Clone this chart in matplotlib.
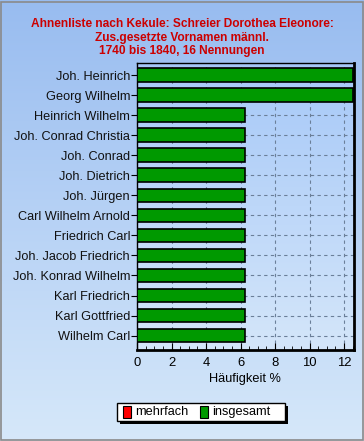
import matplotlib
matplotlib.use("Agg")
import matplotlib.pyplot as plt
import numpy as np
from matplotlib.patches import Rectangle
from matplotlib.colors import LinearSegmentedColormap

names = ["Joh. Heinrich", "Georg Wilhelm", "Heinrich Wilhelm", "Joh. Conrad Christia",
         "Joh. Conrad", "Joh. Dietrich", "Joh. Jürgen", "Carl Wilhelm Arnold",
         "Friedrich Carl", "Joh. Jacob Friedrich", "Joh. Konrad Wilhelm",
         "Karl Friedrich", "Karl Gottfried", "Wilhelm Carl"]
insgesamt = [12.5, 12.5, 6.25, 6.25, 6.25, 6.25, 6.25, 6.25, 6.25, 6.25, 6.25, 6.25, 6.25, 6.25]
xticks = [0, 2, 4, 6, 8, 10, 12]
title = "Ahnenliste nach Kekule: Schreier Dorothea Eleonore:\nZus.gesetzte Vornamen männl.\n1740 bis 1840, 16 Nennungen"

plt.rcParams['font.family'] = ['Liberation Sans', 'DejaVu Sans']

W, H = 364, 441
fig = plt.figure(figsize=(W/100, H/100), dpi=100)

# figure background gradient
bg = fig.add_axes([0, 0, 1, 1], zorder=-10)
cmap = LinearSegmentedColormap.from_list("bg", ["#98bcf0", "#d6e8fa"])
grad = np.linspace(0, 1, 256).reshape(-1, 1)
bg.imshow(grad, aspect='auto', cmap=cmap, extent=[0, 1, 0, 1], origin='upper')
bg.add_patch(Rectangle((0.002, 0.002), 0.994, 0.994, fill=False, edgecolor='#8a8a8a', lw=1.2, transform=bg.transAxes))
bg.set_axis_off()

ax = fig.add_axes([137/W, (H-350)/H, (353.5-137)/W, (350-62.7)/H])
ax.set_facecolor('none')
# plot area gradient
ax.imshow(grad, aspect='auto', cmap=LinearSegmentedColormap.from_list("pa", ["#a6c8f8", "#d4e6fa"]),
          extent=[0, 1, 0, 1], origin='upper', transform=ax.transAxes, zorder=0)

y = np.arange(len(names))
ax.barh(y, insgesamt, height=0.68, color='#009900', edgecolor='black', lw=1.2, zorder=3)

ax.set_xlim(0, 12.55)
ax.set_ylim(13.72, -0.62)
ax.set_yticks(y)
ax.set_yticklabels(names, fontsize=9.2, color='#111111')
ax.set_xticks(xticks)
ax.set_xticklabels([str(t) for t in xticks], fontsize=9.4)
ax.set_xticks(np.arange(0, 12.6, 0.5), minor=True)
ax.tick_params(axis='y', length=4, width=0.8, pad=1)
ax.tick_params(axis='x', which='major', direction='in', length=5, width=0.8, pad=5)
ax.tick_params(axis='x', which='minor', direction='in', length=3, width=0.6)
ax.set_xlabel("Häufigkeit %", fontsize=9.2, labelpad=3)

ax.grid(True, axis='both', which='major', linestyle=(0, (3, 3)), color='#6b7f99', lw=0.8, zorder=1)
ax.set_axisbelow(True)
for s in ['left', 'top']:
    ax.spines[s].set_linewidth(1.0)
for s in ['right', 'bottom']:
    ax.spines[s].set_linewidth(2.0)

fig.text(0.5, 1 - 37.5/H, title, ha='center', va='center', fontsize=8.6, fontweight='bold',
         color='#cc0000', linespacing=1.15)

# legend
lx0, ly0, lw_, lh = 117/W, (H-421)/H, (285-117)/W, 18/H
fig.patches.append(Rectangle((lx0+3/W, ly0-3/H), lw_, lh, transform=fig.transFigure, facecolor='black', edgecolor='none', zorder=5))
fig.patches.append(Rectangle((lx0, ly0), lw_, lh, transform=fig.transFigure, facecolor='white', edgecolor='black', lw=1, zorder=6))
for xs, col, lab in [(123, '#ff0000', 'mehrfach'), (200, '#009900', 'insgesamt')]:
    fig.patches.append(Rectangle((xs/W, (H-418)/H), 8/W, 12/H, transform=fig.transFigure,
                                 facecolor=col, edgecolor='black', lw=0.8, zorder=7))
    fig.text((xs+12)/W, (H-412)/H, lab, fontsize=9.2, va='center', ha='left', zorder=8)

fig.savefig("out.png", dpi=100)
